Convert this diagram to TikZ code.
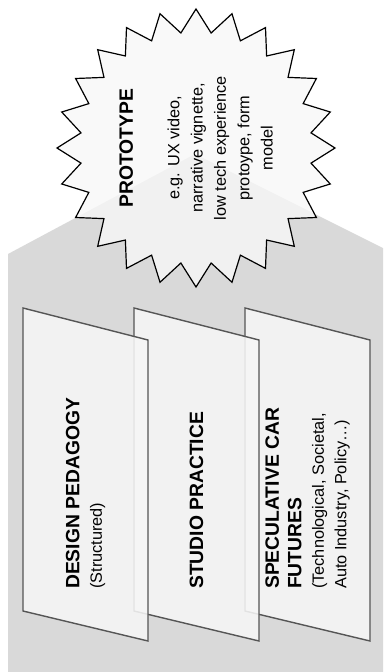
\documentclass[tikz,border=0pt]{standalone}
\usepackage{fontspec}
\setmainfont{Liberation Sans}
\definecolor{bggrey}{HTML}{D9D9D9}
\definecolor{cardfill}{HTML}{F6F6F6}
\definecolor{cardline}{HTML}{555555}
\definecolor{starfill}{HTML}{F8F8F8}
\newcommand{\tbold}{\fontsize{19.3}{22.5}\selectfont\bfseries}
\tikzset{
  cardbox/.style={draw=cardline, line width=1.4pt, fill=cardfill, fill opacity=0.88, line join=miter},
  cardtext/.style={rotate=90, anchor=west, align=left, inner sep=0pt, text=black,
                   font=\fontsize{16.3}{22.5}\selectfont},
  starline/.style={draw=black, line width=1.2pt, fill=starfill, fill opacity=0.8, line join=miter},
  startext/.style={rotate=90, align=center, inner sep=0pt, text=black,
                   font=\fontsize{16.3}{23.3}\selectfont}
}
\begin{document}
\begin{tikzpicture}[x=1pt,y=-1pt]
\useasboundingbox (0,0) rectangle (383,672);
% grey house-shaped background
\fill[bggrey] (8,672) -- (8,254) -- (195,154) -- (383,248) -- (383,672) -- cycle;
% star
\coordinate (sc) at (196,148);
\path[starline] ([shift={(90:139)}]sc)
  \foreach \k [evaluate=\k as \r using {ifthenelse(mod(\k,2)==0,139,116)},
               evaluate=\k as \a using {90+7.5*\k}] in {1,...,47} { -- ([shift={(\a:\r)}]sc) } -- cycle;
\node[startext] (proto) at (sc) {{\tbold PROTOTYPE}\\[23.3pt]e.g. UX video,\\narrative vignette,\\low tech experience\\protoype, form\\model};
% cards (back to front)
\foreach \cx in {245,134,23} {
  \path[cardbox] (\cx,308) -- (\cx+125,340) -- (\cx+125,641) -- (\cx,611) -- cycle;
}
\node[cardtext] (design) at (85.5,589) {{\tbold DESIGN PEDAGOGY}\\(Structured)};
\node[cardtext] (studio) at (196.5,589) {{\tbold STUDIO PRACTICE}};
\node[cardtext] (spec) at (307.5,589) {{\tbold SPECULATIVE CAR}\\{\tbold FUTURES}\\(Technological, Societal,\\Auto Industry, Policy…)};
\end{tikzpicture}
\end{document}
